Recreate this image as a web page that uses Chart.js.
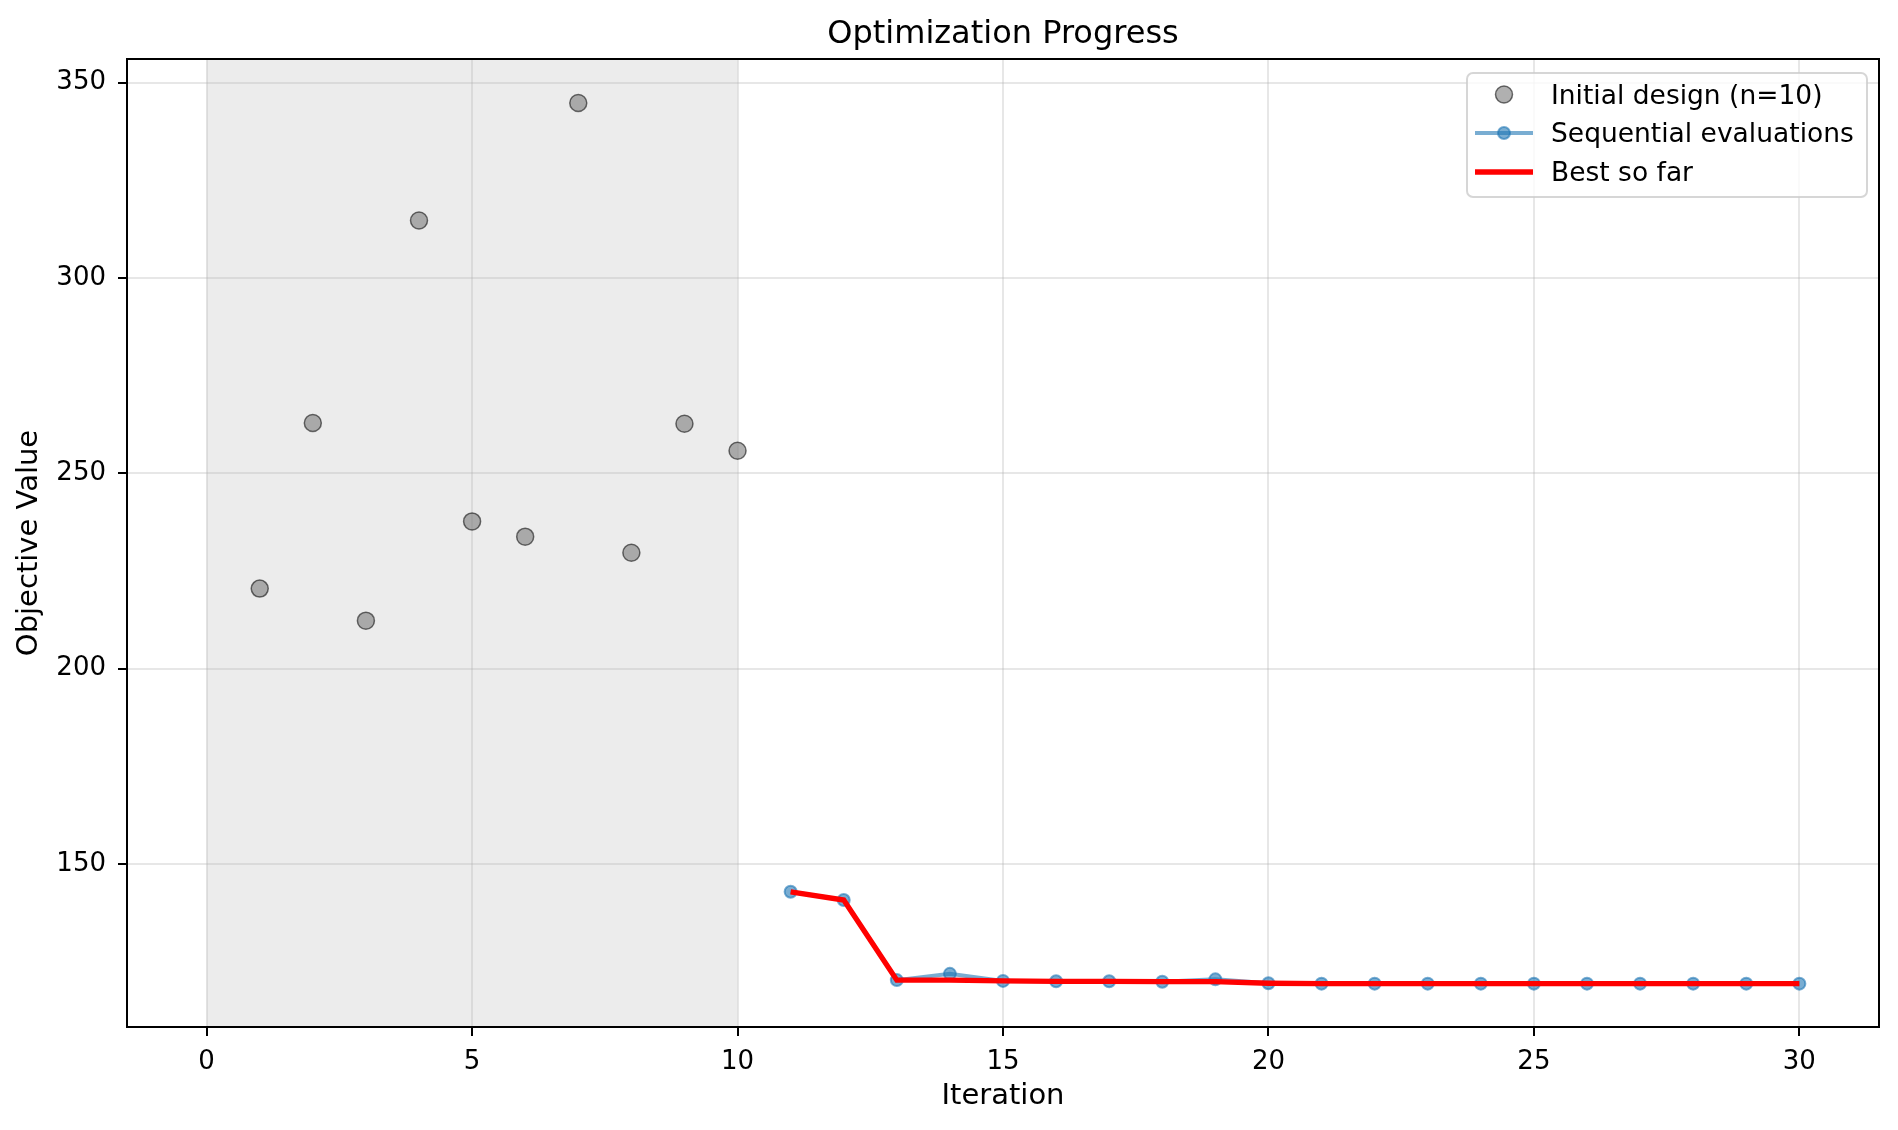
<!DOCTYPE html>
<html>
<head>
<meta charset="utf-8">
<script src="https://cdn.jsdelivr.net/npm/chart.js@4.4.1/dist/chart.umd.min.js"></script>
<style>
  html, body { margin: 0; padding: 0; background: #ffffff; }
  #wrap { width: 1898px; height: 1130px; position: relative; }
  canvas { display: block; }
</style>
</head>
<body>
<div id="wrap"><canvas id="c" width="1898" height="1130"></canvas></div>
<script>
// ---- Data ----
const chartTitle = 'Optimization Progress';
const xAxisLabel = 'Iteration';
const yAxisLabel = 'Objective Value';

const initialIter = [1, 2, 3, 4, 5, 6, 7, 8, 9, 10];
const initialValues = [220.5, 262.9, 212.3, 314.7, 237.7, 233.8, 344.8, 229.7, 262.7, 255.8];

const seqIter = [11, 12, 13, 14, 15, 16, 17, 18, 19, 20, 21, 22, 23, 24, 25, 26, 27, 28, 29, 30];
const seqValues = [142.9, 140.8, 120.3, 121.9, 120.1, 120.0, 120.0, 119.9, 120.5, 119.5,
                   119.4, 119.4, 119.4, 119.4, 119.4, 119.4, 119.4, 119.4, 119.4, 119.4];
const bestValues = [142.9, 140.8, 120.3, 120.3, 120.1, 120.0, 120.0, 119.9, 119.9, 119.5,
                    119.4, 119.4, 119.4, 119.4, 119.4, 119.4, 119.4, 119.4, 119.4, 119.4];

const initialSpan = [0, 10];
const xTicks = [0, 5, 10, 15, 20, 25, 30];
const yTicks = [150, 200, 250, 300, 350];
const xRange = [-1.5, 31.5];
const yRange = [108.3, 356.05];

const legendLabels = ['Initial design (n=10)', 'Sequential evaluations', 'Best so far'];

// ---- Styles ----
const FONT = '"DejaVu Sans", sans-serif';
const grayFill = 'rgba(128,128,128,0.62)';
const grayEdge = 'rgba(0,0,0,0.55)';
const blue = 'rgba(31,119,180,0.6)';
const red = '#ff0000';

const toXY = (xs, ys) => xs.map((x, i) => ({ x: x, y: ys[i] }));

const decorPlugin = {
  id: 'decor',
  beforeDraw(chart) {
    const ctx = chart.ctx;
    const a = chart.chartArea;
    const xs = chart.scales.x;
    ctx.save();
    ctx.fillStyle = '#ffffff';
    ctx.fillRect(0, 0, chart.width, chart.height);
    const x0 = xs.getPixelForValue(initialSpan[0]);
    const x1 = xs.getPixelForValue(initialSpan[1]);
    ctx.fillStyle = 'rgba(128,128,128,0.15)';
    ctx.fillRect(x0, a.top, x1 - x0, a.bottom - a.top);
    ctx.restore();
  },
  afterDraw(chart) {
    const ctx = chart.ctx;
    const a = chart.chartArea;
    ctx.save();
    // spines
    ctx.strokeStyle = '#000000';
    ctx.lineWidth = 2;
    ctx.strokeRect(a.left, a.top, a.right - a.left, a.bottom - a.top);

    // title
    ctx.fillStyle = '#000000';
    ctx.textAlign = 'center';
    ctx.textBaseline = 'alphabetic';
    ctx.font = '32px ' + FONT;
    const cx = (a.left + a.right) / 2;
    ctx.fillText(chartTitle, cx, 43);

    // x label
    ctx.font = '29px ' + FONT;
    ctx.fillText(xAxisLabel, cx, 1104);

    // y label
    ctx.save();
    ctx.translate(29, (a.top + a.bottom) / 2);
    ctx.rotate(-Math.PI / 2);
    ctx.textBaseline = 'middle';
    ctx.fillText(yAxisLabel, 0, 0);
    ctx.restore();

    // legend
    const bx = 1467, by = 73, bw = 400, bh = 124, r = 6;
    ctx.beginPath();
    ctx.moveTo(bx + r, by);
    ctx.arcTo(bx + bw, by, bx + bw, by + bh, r);
    ctx.arcTo(bx + bw, by + bh, bx, by + bh, r);
    ctx.arcTo(bx, by + bh, bx, by, r);
    ctx.arcTo(bx, by, bx + bw, by, r);
    ctx.closePath();
    ctx.fillStyle = 'rgba(255,255,255,0.8)';
    ctx.fill();
    ctx.strokeStyle = 'rgba(204,204,204,0.8)';
    ctx.lineWidth = 2;
    ctx.stroke();

    const rows = [94.5, 133, 172];
    const hx0 = 1475, hx1 = 1533, hm = 1504, tx = 1551;
    // row 1: gray marker
    ctx.beginPath();
    ctx.arc(hm, rows[0], 8.5, 0, Math.PI * 2);
    ctx.fillStyle = grayFill;
    ctx.fill();
    ctx.lineWidth = 1.5;
    ctx.strokeStyle = grayEdge;
    ctx.stroke();
    // row 2: blue line + marker
    ctx.beginPath();
    ctx.moveTo(hx0, rows[1]);
    ctx.lineTo(hx1, rows[1]);
    ctx.strokeStyle = blue;
    ctx.lineWidth = 4;
    ctx.stroke();
    ctx.beginPath();
    ctx.arc(hm, rows[1], 6, 0, Math.PI * 2);
    ctx.fillStyle = blue;
    ctx.fill();
    ctx.lineWidth = 2;
    ctx.strokeStyle = blue;
    ctx.stroke();
    // row 3: red line
    ctx.beginPath();
    ctx.moveTo(hx0, rows[2]);
    ctx.lineTo(hx1, rows[2]);
    ctx.strokeStyle = red;
    ctx.lineWidth = 5.3;
    ctx.stroke();

    ctx.fillStyle = '#000000';
    ctx.font = '26.5px ' + FONT;
    ctx.textAlign = 'left';
    ctx.textBaseline = 'alphabetic';
    legendLabels.forEach((t, i) => ctx.fillText(t, tx, rows[i] + 9));
    ctx.restore();
  }
};

const gridOpts = {
  color: 'rgba(176,176,176,0.3)',
  lineWidth: 2,
  tickLength: 9,
  tickColor: '#000000',
  tickWidth: 2,
  drawTicks: true
};

new Chart(document.getElementById('c'), {
  type: 'scatter',
  data: {
    datasets: [
      {
        label: legendLabels[0],
        data: toXY(initialIter, initialValues),
        showLine: false,
        pointRadius: 8.5,
        pointHoverRadius: 8.5,
        pointBackgroundColor: grayFill,
        pointBorderColor: grayEdge,
        pointBorderWidth: 1.5,
        order: 2
      },
      {
        label: legendLabels[1],
        data: toXY(seqIter, seqValues),
        showLine: true,
        borderColor: blue,
        borderWidth: 4,
        pointRadius: 6,
        pointHoverRadius: 6,
        pointBackgroundColor: blue,
        pointBorderColor: blue,
        pointBorderWidth: 2,
        tension: 0,
        order: 1
      },
      {
        label: legendLabels[2],
        data: toXY(seqIter, bestValues),
        showLine: true,
        borderColor: red,
        borderWidth: 5.3,
        pointRadius: 0,
        pointHoverRadius: 0,
        tension: 0,
        order: 0
      }
    ]
  },
  options: {
    responsive: false,
    animation: false,
    devicePixelRatio: 1,
    events: [],
    layout: { padding: { top: 59, right: 19, left: 0, bottom: 0 } },
    plugins: {
      legend: { display: false },
      title: { display: false },
      tooltip: { enabled: false }
    },
    scales: {
      x: {
        type: 'linear',
        min: xRange[0],
        max: xRange[1],
        afterBuildTicks: (s) => { s.ticks = xTicks.map(v => ({ value: v })); },
        afterFit: (s) => { s.height = 103; },
        ticks: { color: '#000000', font: { family: FONT, size: 26 }, padding: 11, maxRotation: 0 },
        grid: gridOpts,
        border: { display: true, color: '#000000', width: 2 }
      },
      y: {
        type: 'linear',
        min: yRange[0],
        max: yRange[1],
        afterBuildTicks: (s) => { s.ticks = yTicks.map(v => ({ value: v })); },
        afterFit: (s) => { s.width = 127; },
        ticks: { color: '#000000', font: { family: FONT, size: 26 }, padding: 12 },
        grid: gridOpts,
        border: { display: true, color: '#000000', width: 2 }
      }
    }
  },
  plugins: [decorPlugin]
});
</script>
</body>
</html>
